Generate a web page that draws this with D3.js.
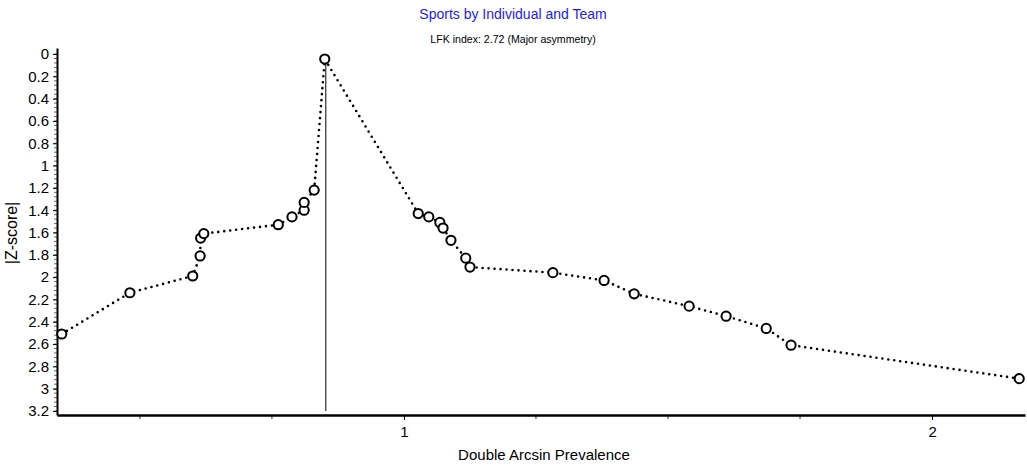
<!DOCTYPE html>
<html>
<head>
<meta charset="utf-8">
<script src="https://cdn.jsdelivr.net/npm/d3@7"></script>
<style>
  body { margin: 0; background: #fff; }
  svg { display: block; font-family: "Liberation Sans", Arial, sans-serif; }
</style>
</head>
<body>
<svg id="chart" width="1027" height="469"></svg>
<script>
const titleText = "Sports by Individual and Team";
const subtitleText = "LFK index: 2.72 (Major asymmetry)";
const xLabel = "Double Arcsin Prevalence";
const yLabel = "|Z-score|";

// Double arcsin prevalence of each study (sorted)
const prevalence = [0.352, 0.481, 0.600, 0.614, 0.615, 0.621, 0.762, 0.788, 0.811, 0.811, 0.830, 0.850,
                    1.027, 1.047, 1.068, 1.074, 1.089, 1.117, 1.125, 1.282, 1.379, 1.436, 1.540, 1.610, 1.686, 1.733, 2.165];
// |Z-score| of each study
const zScore = [2.51, 2.14, 1.99, 1.81, 1.65, 1.61, 1.53, 1.46, 1.40, 1.33, 1.22, 0.045,
                1.43, 1.46, 1.51, 1.56, 1.67, 1.83, 1.91, 1.96, 2.03, 2.15, 2.26, 2.35, 2.46, 2.61, 2.91];
const medianX = 0.852;

const yTicks = [0, 0.2, 0.4, 0.6, 0.8, 1, 1.2, 1.4, 1.6, 1.8, 2, 2.2, 2.4, 2.6, 2.8, 3, 3.2];
const xMajorTicks = [1, 2];
const xMinorTicks = [0.5, 0.75, 1.25, 1.5, 1.75];

const svg = d3.select("#chart");

const x = d3.scaleLinear().domain([0.343, 2.176]).range([57, 1025]);
const y = d3.scaleLinear().domain([-0.054, 3.236]).range([48, 415]);

const FONT = "Liberation Sans, Arial, sans-serif";

// Titles
svg.append("text").attr("x", 513).attr("y", 19).attr("text-anchor", "middle")
  .attr("font-size", 14).attr("fill", "#1a1aff").text(titleText);
svg.append("text").attr("x", 513).attr("y", 43).attr("text-anchor", "middle")
  .attr("font-size", 10.6).attr("fill", "#000").text(subtitleText);

// Y axis
const yAxis = d3.axisLeft(y).tickValues(yTicks).tickSize(4).tickSizeOuter(0)
  .tickFormat(d => d3.format("~g")(d));
const gy = svg.append("g").attr("transform", "translate(57,0)").call(yAxis);
gy.select(".domain").attr("stroke-width", 2);
gy.selectAll(".tick line").attr("stroke-width", 1);
gy.selectAll(".tick text").attr("font-size", 15).attr("font-family", FONT).attr("x", -8);
// y minor ticks
const yMinor = d3.range(0, 3.21, 0.04);
svg.append("g").selectAll("line").data(yMinor).join("line")
  .attr("x1", 54).attr("x2", 57).attr("y1", d => y(d)).attr("y2", d => y(d))
  .attr("stroke", "#000").attr("stroke-width", 0.6);

// X axis
const xAxis = d3.axisBottom(x).tickValues(xMajorTicks).tickSize(5).tickSizeOuter(0)
  .tickFormat(d3.format("d"));
const gx = svg.append("g").attr("transform", "translate(0,415)").call(xAxis);
gx.select(".domain").attr("stroke-width", 2.5);
gx.selectAll(".tick text").attr("font-size", 15).attr("font-family", FONT).attr("y", 11);
svg.append("g").selectAll("line").data(xMinorTicks).join("line")
  .attr("x1", d => x(d)).attr("x2", d => x(d)).attr("y1", 415).attr("y2", 419)
  .attr("stroke", "#000").attr("stroke-width", 0.8);

// Axis labels
svg.append("text").attr("x", 544).attr("y", 460).attr("text-anchor", "middle")
  .attr("font-size", 15).text(xLabel);
svg.append("text").attr("transform", "translate(17,233) rotate(-90)").attr("text-anchor", "middle")
  .attr("font-size", 16).text(yLabel);

// Vertical median line
svg.append("line").attr("x1", x(medianX)).attr("x2", x(medianX))
  .attr("y1", y(0.045)).attr("y2", y(3.2)).attr("stroke", "#000").attr("stroke-width", 1);

// Dotted Doi plot line
const pts = prevalence.map((p, i) => [p, zScore[i]]);
const line = d3.line().x(d => x(d[0])).y(d => y(d[1]));
svg.append("path").datum(pts).attr("d", line).attr("fill", "none")
  .attr("stroke", "#000").attr("stroke-width", 2.6).attr("stroke-linecap", "round")
  .attr("stroke-dasharray", "0,6");

// Points
svg.append("g").selectAll("circle").data(pts).join("circle")
  .attr("cx", d => x(d[0])).attr("cy", d => y(d[1])).attr("r", 4.6)
  .attr("fill", "#fff").attr("stroke", "#000").attr("stroke-width", 2);
</script>
</body>
</html>
